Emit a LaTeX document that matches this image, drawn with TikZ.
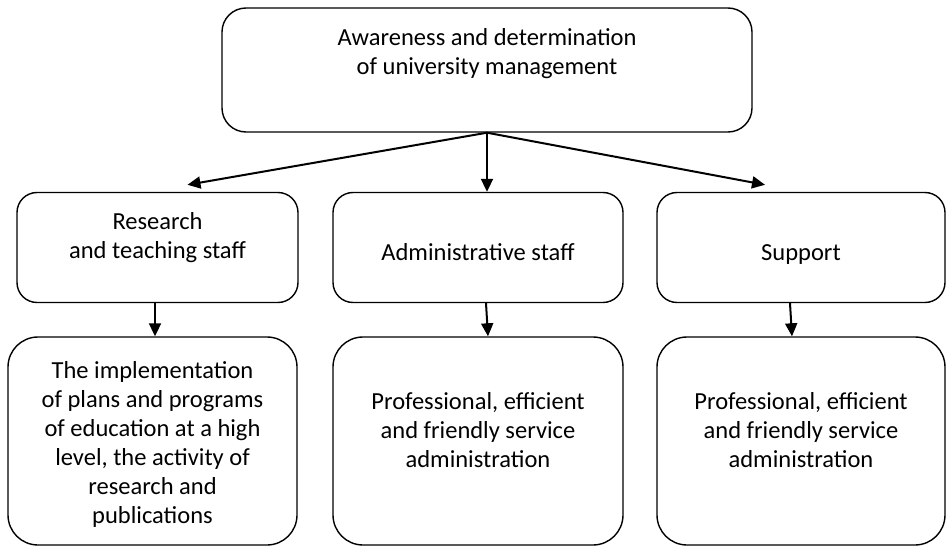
\documentclass[tikz,border=0pt]{standalone}
\usepackage{fontspec}
\setmainfont{Carlito}
\usetikzlibrary{arrows.meta}
\begin{document}
\begin{tikzpicture}[x=1pt,y=-1pt,
  box/.style={draw, line width=1.4pt, rounded corners=20pt, inner sep=0pt},
  txt/.style={align=center, font=\fontsize{24.5}{29}\selectfont, inner sep=0pt},
  arr/.style={line width=2pt, -{Triangle[length=13pt,width=12pt]}}]
\useasboundingbox (0,0) rectangle (946,546);
% top
\node[box, minimum width=530pt, minimum height=124pt, rounded corners=24pt] (top) at (487,70) {};
\node[txt] (toptext) at (487,54) {Awareness and determination\\of university management};
% middle row
\node[box, minimum width=281pt, minimum height=110pt] (r1) at (157.5,247.5) {};
\node[box, minimum width=290pt, minimum height=110pt] (r2) at (478,247.5) {};
\node[box, minimum width=288pt, minimum height=110pt] (r3) at (801,247.5) {};
\node[txt] (s1) at (157.5,238) {Research\\and teaching staff};
\node[txt, anchor=base] (s2) at (478,260) {Administrative staff};
\node[txt, anchor=base] (s3) at (801,260) {Support};
% bottom row
\node[box, minimum width=289pt, minimum height=208pt, rounded corners=30pt] (b1) at (152.5,441) {};
\node[box, minimum width=290pt, minimum height=208pt, rounded corners=30pt] (b2) at (478,441) {};
\node[box, minimum width=288pt, minimum height=208pt, rounded corners=30pt] (b3) at (801,441) {};
\node[txt] (t1) at (152.5,444) {The implementation\\of plans and programs\\of education at a high\\level, the activity of\\research and\\publications};
\node[txt] (t2) at (478,430) {Professional, efficient\\and friendly service\\administration};
\node[txt] (t3) at (801,430) {Professional, efficient\\and friendly service\\administration};
% arrows
\draw[arr] (top.south) -- ([xshift=30pt,yshift=7pt]r1.north);
\draw[arr] (top.south) -- ([xshift=9pt]r2.north);
\draw[arr] (top.south) -- ([xshift=-36pt,yshift=7pt]r3.north);
\draw[arr] ([xshift=-2.5pt]r1.south) -- ([xshift=2.5pt]b1.north);
\draw[arr] ([xshift=8pt]r2.south) -- ([xshift=10pt]b2.north);
\draw[arr] ([xshift=-11pt]r3.south) -- ([xshift=-9pt]b3.north);
\end{tikzpicture}
\end{document}
